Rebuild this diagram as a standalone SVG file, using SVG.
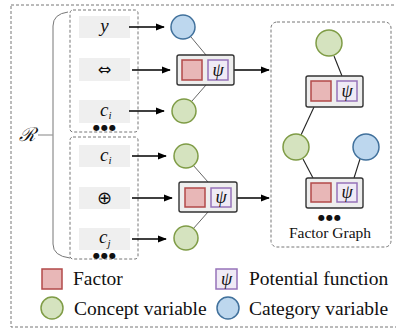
<svg xmlns="http://www.w3.org/2000/svg" width="396" height="329" viewBox="0 0 396 329">
<defs>
<marker id="arr" viewBox="0 0 10 10" refX="9" refY="5" markerWidth="9" markerHeight="9" markerUnits="userSpaceOnUse" orient="auto">
<path d="M0,1 L10,5 L0,9 z" fill="#000"/>
</marker>
</defs>
<style>
.dash{fill:none;stroke:#777;stroke-width:1;stroke-dasharray:3 2}
.lbl{fill:#efefef;stroke:none}
.ar{stroke:#000;stroke-width:1.5;fill:none;marker-end:url(#arr)}
.edge{stroke:#555;stroke-width:0.9;fill:none}
.edge2{stroke:#222;stroke-width:1.1;fill:none}
.blue{fill:#bdd7ee;stroke:#41719c;stroke-width:1.5}
.green{fill:#d5e3bf;stroke:#7f9c46;stroke-width:1.5}
.fbox{fill:#eeeeee;stroke:#333;stroke-width:1.4}
.red{fill:#e8b7b7;stroke:#b24a4a;stroke-width:1.5}
.pur{fill:#efeaf5;stroke:#9673b9;stroke-width:1.5}
text{fill:#111}
.it{font-style:italic}
.dots{font-family:"DejaVu Sans",sans-serif;font-size:8px;letter-spacing:1px}
</style>
<rect x="11" y="5" width="400" height="322" class="dash" stroke="#666"/>
<g id="brace">
<path d="M68,12 Q53,14 53,26 L53,244 Q53,256 70,258" fill="none" stroke="#777" stroke-width="1"/>
<line x1="38" y1="135" x2="53" y2="135" stroke="#999" stroke-width="1.2"/>
<text x="19" y="141" class="it" font-size="19" font-family="'DejaVu Serif', serif">ℛ</text>
</g>
<g id="group1" style="font-family:'Liberation Serif','Times New Roman','DejaVu Serif',serif">
<rect x="70" y="10" width="68" height="122" rx="3" class="dash"/>
<rect x="79" y="16" width="51" height="22" class="lbl"/>
<text x="104.5" y="32" class="it" font-size="19" text-anchor="middle">y</text>
<rect x="79" y="58" width="51" height="23" class="lbl"/>
<text x="104.5" y="75" font-size="16" text-anchor="middle" style="font-family:'DejaVu Sans',sans-serif">⇔</text>
<rect x="79" y="100" width="51" height="23" class="lbl"/>
<text x="100" y="116" class="it" font-size="19">c</text>
<text x="108.5" y="119" class="it" font-size="11">i</text>
<text x="105" y="130" text-anchor="middle" class="dots">●●●</text>
</g>
<g id="group2" style="font-family:'Liberation Serif','Times New Roman','DejaVu Serif',serif">
<rect x="70" y="137" width="68" height="122" rx="3" class="dash"/>
<rect x="79" y="145" width="51" height="22" class="lbl"/>
<text x="100" y="161" class="it" font-size="19">c</text>
<text x="108.5" y="164" class="it" font-size="11">i</text>
<rect x="79" y="187" width="51" height="22" class="lbl"/>
<text x="104.5" y="204" font-size="18" text-anchor="middle" style="font-family:'DejaVu Sans',sans-serif">⊕</text>
<rect x="79" y="228" width="51" height="22" class="lbl"/>
<text x="99" y="243" class="it" font-size="19">c</text>
<text x="107.5" y="247" class="it" font-size="11">j</text>
<text x="105" y="258" text-anchor="middle" class="dots">●●●</text>
</g>
<g id="connectors">
<line x1="129" y1="27" x2="164" y2="27" class="ar"/>
<line x1="132" y1="70" x2="170" y2="70" class="ar"/>
<line x1="129" y1="111" x2="164" y2="111" class="ar"/>
<line x1="132" y1="156" x2="166" y2="156" class="ar"/>
<line x1="132" y1="198" x2="172" y2="198" class="ar"/>
<line x1="132" y1="239" x2="166" y2="239" class="ar"/>
<line x1="234" y1="70" x2="269" y2="70" class="ar"/>
<line x1="237" y1="198" x2="269" y2="198" class="ar"/>
<line x1="191" y1="37" x2="206" y2="55" class="edge"/>
<line x1="206" y1="85" x2="192" y2="101" class="edge"/>
<line x1="193" y1="165" x2="208" y2="182" class="edge"/>
<line x1="208" y1="212" x2="193" y2="229" class="edge"/>
<line x1="334" y1="56" x2="342" y2="76" class="edge2"/>
<line x1="314" y1="107" x2="301" y2="135" class="edge2"/>
<line x1="303" y1="159" x2="313" y2="178" class="edge2"/>
<line x1="360" y1="159" x2="354" y2="178" class="edge2"/>
</g>
<g id="cat1"><circle cx="183" cy="27" r="12" class="blue"/></g>
<g id="con1"><circle cx="184" cy="111" r="12" class="green"/></g>
<g id="factor1" style="font-family:'Liberation Serif','Times New Roman','DejaVu Serif',serif">
<rect x="177" y="55" width="57" height="30" rx="2" class="fbox"/>
<rect x="182" y="60" width="20" height="20" class="red"/>
<rect x="208" y="60" width="20" height="20" class="pur"/>
<text x="218" y="76" class="it" font-size="18" text-anchor="middle">ψ</text>
</g>
<g id="con2"><circle cx="186" cy="156" r="12" class="green"/></g>
<g id="con3"><circle cx="186" cy="238" r="12" class="green"/></g>
<g id="factor2" style="font-family:'Liberation Serif','Times New Roman','DejaVu Serif',serif">
<rect x="179" y="182" width="58" height="30" rx="2" class="fbox"/>
<rect x="185" y="188" width="20" height="19" class="red"/>
<rect x="211" y="188" width="20" height="19" class="pur"/>
<text x="221" y="203" class="it" font-size="18" text-anchor="middle">ψ</text>
</g>
<g id="factorgraph" style="font-family:'Liberation Serif','Times New Roman','DejaVu Serif',serif">
<rect x="271" y="22" width="120" height="225" rx="6" class="dash"/>
<circle cx="329" cy="43" r="13" class="green"/>
<rect x="306" y="76" width="57" height="31" rx="2" class="fbox"/>
<rect x="311" y="81" width="20" height="20" class="red"/>
<rect x="337" y="81" width="20" height="20" class="pur"/>
<text x="347" y="97" class="it" font-size="18" text-anchor="middle">ψ</text>
<circle cx="296" cy="147" r="13" class="green"/>
<circle cx="366" cy="147" r="13" class="blue"/>
<rect x="306" y="178" width="57" height="30" rx="2" class="fbox"/>
<rect x="311" y="183" width="20" height="19" class="red"/>
<rect x="337" y="183" width="20" height="19" class="pur"/>
<text x="347" y="198" class="it" font-size="18" text-anchor="middle">ψ</text>
<text x="330" y="220" text-anchor="middle" class="dots">●●●</text>
<text x="330" y="238" font-size="15.5" text-anchor="middle">Factor Graph</text>
</g>
<g id="legend" style="font-family:'Liberation Serif','Times New Roman','DejaVu Serif',serif">
<rect x="42" y="269" width="20" height="20" class="red"/>
<text x="73" y="285" font-size="19.5">Factor</text>
<rect x="216" y="269" width="21" height="20" class="pur"/>
<text x="226.5" y="285" class="it" font-size="18" text-anchor="middle">ψ</text>
<text x="249" y="285" font-size="19.5">Potential function</text>
<circle cx="52" cy="308" r="11" class="green"/>
<text x="74" y="315" font-size="19.5">Concept variable</text>
<circle cx="228" cy="308" r="11" class="blue"/>
<text x="249" y="315" font-size="19.5">Category variable</text>
</g>
</svg>
